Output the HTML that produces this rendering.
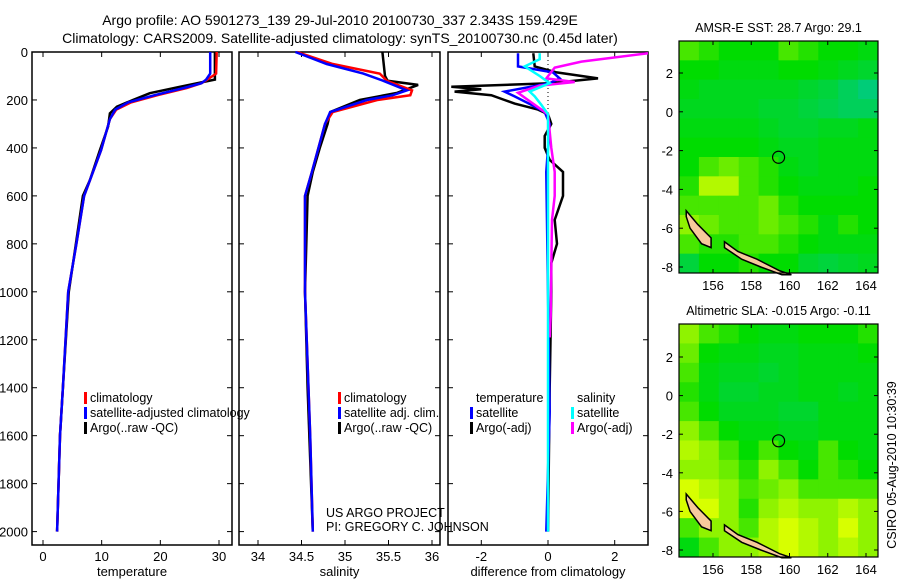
<!DOCTYPE html>
<html><head><meta charset="utf-8"><style>
body{margin:0;background:#fff;}
svg{display:block;font-family:"Liberation Sans",sans-serif;}
</style></head><body>
<svg id="fig" width="900" height="580" viewBox="0 0 900 580">
<text x="340" y="25" font-size="14" text-anchor="middle">Argo profile: AO 5901273_139 29-Jul-2010 20100730_337 2.343S 159.429E</text>
<text x="340" y="43" font-size="14" text-anchor="middle">Climatology: CARS2009. Satellite-adjusted climatology: synTS_20100730.nc (0.45d later)</text>
<g id="g"></g>
</svg>
<script>
// ---------- data ----------
const tDepth = [0,115,125,145,172,200,228,256,311,409,534,600,800,1000,1400,1600,2000];
const tArgo  = [29.3,29.3,27.3,23.3,18.2,15.3,12.6,11.4,11.1,9.7,8.0,6.8,5.6,4.4,3.4,2.9,2.4];
const tcDepth = [0,90,115,130,150,180,210,240,280,409,600,800,1000,1400,1600,2000];
const tClim   = [29.6,29.5,28,27.0,24.5,19.5,15,12.5,11.4,9.9,7.0,5.7,4.3,3.4,2.9,2.4];
const tSat    = [28.5,28.5,27.8,27.0,24,19,14.5,12.3,11.4,9.9,7.0,5.7,4.3,3.4,2.9,2.4];
const sDepth = [0,100,120,137,170,200,250,300,400,500,600,1000,1400,2000];
const sArgo  = [35.43,35.46,35.49,35.84,35.6,35.17,34.83,34.8,34.71,34.63,34.57,34.54,34.57,34.63];
const scDepth = [0,50,90,120,160,180,200,250,300,500,600,1000,1600,2000];
const sClim  = [34.45,34.86,35.4,35.48,35.77,35.75,35.37,34.86,34.77,34.62,34.54,34.54,34.6,34.63];
const sSat   = [34.43,34.79,35.21,35.44,35.71,35.55,35.25,34.83,34.77,34.62,34.54,34.54,34.6,34.63];
const dtArgoDepth = [5,60,85,110,130,145,155,165,180,200,215,240,260,300,350,400,450,500,600,700,800,880,1000,1400,2000];
const dtArgo = [-0.44,-0.4,0.26,1.5,0.05,-2.9,-2.0,-2.8,-1.7,-1.3,-1.0,-0.3,0,0.1,-0.1,-0.1,0.05,0.45,0.45,0.2,0.27,0.1,0.1,0.05,0];
const dtSatDepth = [5,60,85,110,130,165,185,220,250,300,500,1000,1500,2000];
const dtSat = [-0.9,-0.9,0.15,0.35,0.05,-1.3,-1.0,-0.5,-0.1,0.05,-0.05,0,0.05,-0.05];
const dsSatDepth = [5,30,60,100,130,165,185,220,260,2000];
const dsSat = [-0.25,-0.25,-0.7,-0.25,0.05,-0.55,-0.4,-0.2,0,0];
const dsArgoDepth = [5,40,65,110,125,140,170,200,230,260,400,500,600,700,900,1100,1190];
const dsArgo = [3.0,1.0,0.2,-0.05,0.8,-0.25,-0.9,-0.6,-0.3,0,0.1,0.2,0.2,0.12,0.1,0.08,0.05];
const depthTicks = [0,200,400,600,800,1000,1200,1400,1600,1800,2000];
const tempTicks = [0,10,20,30];
const salTicks = [34,34.5,35,35.5,36];
const diffTicks = [-2,0,2];
const lonTicks = [156,158,160,162,164];
const latTicks = [2,0,-2,-4,-6,-8];
const sstGrid = [
[0.6,0.55,0.5,0.5,0.5,0.6,0.55,0.5,0.5,0.45],
[0.5,0.5,0.45,0.45,0.45,0.5,0.5,0.45,0.4,0.35],
[0.45,0.4,0.4,0.4,0.4,0.4,0.35,0.3,0.2,0.1],
[0.4,0.4,0.4,0.4,0.35,0.35,0.3,0.25,0.2,0.2],
[0.45,0.45,0.45,0.45,0.4,0.35,0.35,0.4,0.4,0.45],
[0.5,0.5,0.5,0.5,0.45,0.4,0.4,0.45,0.45,0.45],
[0.5,0.6,0.65,0.6,0.55,0.45,0.4,0.45,0.45,0.45],
[0.55,0.75,0.75,0.6,0.55,0.5,0.45,0.45,0.45,0.5],
[0.6,0.6,0.6,0.6,0.65,0.55,0.5,0.5,0.5,0.5],
[0.7,0.65,0.6,0.6,0.65,0.6,0.55,0.45,0.55,0.5],
[0.6,0.55,0.55,0.6,0.6,0.55,0.5,0.45,0.45,0.45],
[0.3,0.5,0.5,0.55,0.5,0.5,0.35,0.3,0.35,0.4]];
const slaGrid = [
[0.7,0.6,0.55,0.5,0.45,0.45,0.5,0.5,0.5,0.55],
[0.65,0.5,0.45,0.45,0.4,0.4,0.45,0.45,0.45,0.5],
[0.6,0.45,0.4,0.4,0.35,0.4,0.45,0.45,0.45,0.45],
[0.55,0.45,0.35,0.35,0.4,0.4,0.45,0.45,0.4,0.45],
[0.6,0.5,0.4,0.4,0.4,0.35,0.35,0.45,0.45,0.45],
[0.7,0.6,0.5,0.45,0.45,0.4,0.4,0.45,0.45,0.45],
[0.75,0.7,0.6,0.5,0.6,0.5,0.45,0.6,0.5,0.45],
[0.7,0.7,0.65,0.55,0.7,0.6,0.5,0.6,0.55,0.5],
[0.8,0.75,0.7,0.6,0.65,0.7,0.6,0.6,0.6,0.6],
[0.8,0.8,0.7,0.55,0.7,0.75,0.7,0.7,0.75,0.7],
[0.6,0.7,0.7,0.6,0.75,0.8,0.75,0.7,0.8,0.7],
[0.45,0.6,0.7,0.7,0.75,0.8,0.75,0.7,0.75,0.7]];
const islandA = [[154.6,-5.1],[155.2,-5.8],[155.9,-6.5],[155.9,-7.0],[155.4,-6.8],[154.8,-6.0],[154.6,-5.4]];
const islandB = [[156.6,-6.7],[157.3,-7.2],[158.3,-7.6],[159.5,-8.2],[160.1,-8.4],[159.6,-8.4],[158.5,-8.0],[157.5,-7.6],[156.6,-7.0]];
const argoPos = [159.429,-2.343];

// ---------- helpers ----------
const NS="http://www.w3.org/2000/svg";
const G=document.getElementById('g');
function mk(tag,attrs,parent){const e=document.createElementNS(NS,tag);for(const k in attrs)e.setAttribute(k,attrs[k]);(parent||G).appendChild(e);return e;}
const top0=52, bot=545;
const yD=d=>top0+d*0.2398;
function lin(d0,d1,r0,r1){return v=>r0+(v-d0)*(r1-r0)/(d1-d0);}

function panel(name,x0,x1,xs,ticks,label,showY){
  const r=mk('rect',{x:x0,y:top0,width:x1-x0,height:bot-top0,fill:'none',stroke:'#000','stroke-width':1.5});
  
  
  ticks.forEach(t=>{const x=xs(t);
    mk('line',{x1:x,x2:x,y1:bot,y2:bot-5,stroke:'#000'});
    mk('line',{x1:x,x2:x,y1:top0,y2:top0+5,stroke:'#000'});
    const tx=mk('text',{x:x,y:561,'font-size':13,'text-anchor':'middle'});tx.textContent=t;
    
    
  });
  depthTicks.forEach(d=>{const y=yD(d);
    mk('line',{x1:x0,x2:x0+5,y1:y,y2:y,stroke:'#000'});
    mk('line',{x1:x1,x2:x1-5,y1:y,y2:y,stroke:'#000'});
    if(showY){const tx=mk('text',{x:28,y:y+5,'font-size':13,'text-anchor':'end'});tx.textContent=d;
      
      }
  });
  const t=mk('text',{x:(x0+x1)/2,y:576,'font-size':13,'text-anchor':'middle'});t.textContent=label;
  
  
}
function line(name,depths,vals,xs,color,w,x0,x1){
  const pts=depths.map((d,i)=>Math.max(x0,Math.min(x1,xs(vals[i]))).toFixed(1)+','+yD(d).toFixed(1)).join(' ');
  const p=mk('polyline',{points:pts,fill:'none',stroke:color,'stroke-width':w,'stroke-linejoin':'miter'});
  
  
}
function legend(name,x,y,items){
  items.forEach((it,i)=>{const yy=y+i*15;
    if(it[1]){mk('rect',{x:x,y:yy-10,width:3,height:12,fill:it[1]});}
    const t=mk('text',{x:x+6,y:yy,'font-size':12.5});t.textContent=it[0];
    
    
  });
}

// temperature panel
const xT=lin(0,30,43,219);
panel('temperature-panel',32,232,xT,tempTicks,'temperature',true);
line('temp-argo-line',tDepth,tArgo,xT,'#000',2.5,32,232);
line('temp-climatology-line',tcDepth,tClim,xT,'#f00',2.5,32,232);
line('temp-satellite-line',tcDepth,tSat,xT,'#00f',2.5,32,232);
legend('temp-legend',84,402,[['climatology','#f00'],['satellite-adjusted climatology','#00f'],['Argo(..raw -QC)','#000']]);

// salinity panel
const xS=lin(34,36,258,432);
panel('salinity-panel',239,440,xS,salTicks,'salinity',false);
line('sal-argo-line',sDepth,sArgo,xS,'#000',2.5,239,440);
line('sal-climatology-line',scDepth,sClim,xS,'#f00',2.5,239,440);
line('sal-satellite-line',scDepth,sSat,xS,'#00f',2.5,239,440);
legend('sal-legend',338,402,[['climatology','#f00'],['satellite adj. clim.','#00f'],['Argo(..raw -QC)','#000']]);
const c1=mk('text',{x:326,y:517,'font-size':12.5});c1.textContent='US ARGO PROJECT';


const c2=mk('text',{x:326,y:531,'font-size':12.5});c2.textContent='PI: GREGORY C. JOHNSON';



// difference panel
const xDf=lin(-2,2,481.3,614.7);
panel('difference-panel',448,648,xDf,diffTicks,'difference from climatology',false);
mk('line',{x1:548,x2:548,y1:top0,y2:yD(300),stroke:'#000','stroke-dasharray':'1,3'});
line('diff-temp-argo-line',dtArgoDepth,dtArgo,xDf,'#000',2.5,448,648);
line('diff-temp-satellite-line',dtSatDepth,dtSat,xDf,'#00f',2.5,448,648);
line('diff-sal-argo-line',dsArgoDepth,dsArgo,xDf,'#f0f',2.5,448,648);
line('diff-sal-satellite-line',dsSatDepth,dsSat,xDf,'#0ff',2.5,448,648);
legend('diff-temp-legend',470,402,[['temperature',null],['satellite','#00f'],['Argo(-adj)','#000']]);
legend('diff-sal-legend',571,402,[['salinity',null],['satellite','#0ff'],['Argo(-adj)','#f0f']]);

// maps
function col(v){
  let r,g,b;
  if(v<0.5){const t=v/0.5;r=0;g=200+t*20;b=150-t*150;}
  else{const t=Math.min(1,(v-0.5)/0.3);r=t*215;g=220+t*35;b=0;}
  return `rgb(${r|0},${g|0},${b|0})`;
}
function map(name,top,bottomPx,lat2,latm8,grid,title){
  const L=679,R=878;
  const xL=lin(156,164,713,866), yL=lin(2,-8,lat2,latm8);
  const rows=grid.length, cols=grid[0].length;
  const cw=(R-L)/cols, ch=(bottomPx-top)/rows;
  grid.forEach((row,i)=>row.forEach((v,j)=>{
    const c=mk('rect',{x:L+j*cw,y:top+i*ch,width:cw+0.5,height:ch+0.5,fill:col(v)});
    
    
  }));
  [islandA,islandB].forEach(isl=>{
    const p=mk('polygon',{points:isl.map(q=>xL(q[0])+','+yL(q[1])).join(' '),fill:'#f7c99c',stroke:'#000','stroke-width':1.5});
    
    
  });
  const c=mk('circle',{cx:xL(argoPos[0]),cy:yL(argoPos[1]),r:6,fill:'none',stroke:'#000','stroke-width':1.2});
  
  
  const f=mk('rect',{x:L,y:top,width:R-L,height:bottomPx-top,fill:'none',stroke:'#000','stroke-width':1.2});
  
  
  lonTicks.forEach(t=>{const x=xL(t);
    mk('line',{x1:x,x2:x,y1:bottomPx,y2:bottomPx-4,stroke:'#000'});
    mk('line',{x1:x,x2:x,y1:top,y2:top+4,stroke:'#000'});
    const tx=mk('text',{x:x,y:bottomPx+17,'font-size':13,'text-anchor':'middle'});tx.textContent=t;
    
    
  });
  latTicks.forEach(t=>{const y=yL(t);
    mk('line',{x1:L,x2:L+4,y1:y,y2:y,stroke:'#000'});
    mk('line',{x1:R,x2:R-4,y1:y,y2:y,stroke:'#000'});
    const tx=mk('text',{x:L-6,y:y+5,'font-size':13,'text-anchor':'end'});tx.textContent=t;
    
    
  });
  const tt=mk('text',{x:(L+R)/2,y:top-9,'font-size':12.5,'text-anchor':'middle'});tt.textContent=title;
  
  
}
map('sst-map',41,273,73,267,sstGrid,'AMSR-E SST: 28.7 Argo: 29.1');
map('sla-map',324,557,357,550,slaGrid,'Altimetric SLA: -0.015 Argo: -0.11');
const cs=mk('text',{x:0,y:0,'font-size':12.5,'text-anchor':'middle',transform:'translate(896,465) rotate(-90)'});cs.textContent='CSIRO 05-Aug-2010 10:30:39';


</script>
</body></html>
